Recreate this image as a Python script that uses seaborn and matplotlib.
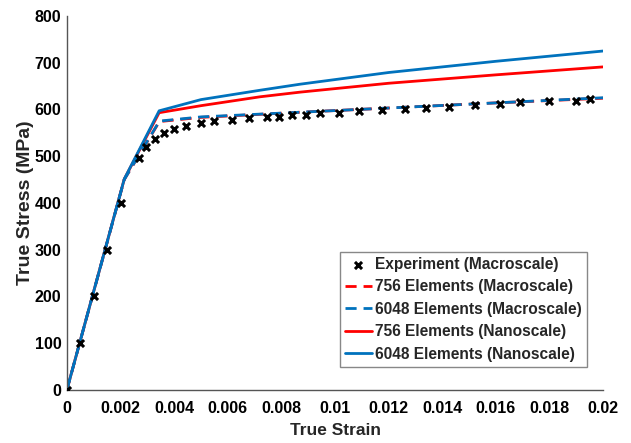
import numpy as np
import pandas as pd
import matplotlib
matplotlib.use("Agg")
import matplotlib.pyplot as plt
import seaborn as sns
from matplotlib.ticker import FuncFormatter

# ---- data ----
exp_strain = [0.0, 0.0005, 0.001, 0.0015, 0.002, 0.0027, 0.00295, 0.00328, 0.00363,
              0.0040, 0.00444, 0.0050, 0.0055, 0.00617, 0.0068, 0.00747, 0.0079,
              0.0084, 0.0089, 0.00944, 0.01015, 0.0109, 0.01176, 0.0126, 0.0134,
              0.01425, 0.0152, 0.01616, 0.0169, 0.01797, 0.01897, 0.0195]
exp_stress = [0, 100, 200, 300, 400, 497, 519, 537, 550,
              558, 565, 572, 575, 578, 581, 584, 584,
              587, 589, 592, 593, 597, 599, 600, 604,
              606, 610, 611, 615, 617, 619, 622]

macro_strain = [0.0, 0.00214, 0.00345, 0.0050, 0.0087, 0.0120, 0.0160, 0.0200]
macro756_stress = [0, 450, 574, 583, 594, 603, 614, 624]
macro6048_stress = [0, 450, 575, 584, 594, 603, 614, 625]

nano_strain = [0.0, 0.00214, 0.00344, 0.0050, 0.0072, 0.0087, 0.0120, 0.0160, 0.0200]
nano756_stress = [0, 451, 593, 608, 627, 637, 656, 674, 691]
nano6048_stress = [0, 451, 597, 621, 641, 654, 679, 703, 725]

labels = ["Experiment (Macroscale)", "756 Elements (Macroscale)",
          "6048 Elements (Macroscale)", "756 Elements (Nanoscale)",
          "6048 Elements (Nanoscale)"]
x_ticks = [0, 0.002, 0.004, 0.006, 0.008, 0.01, 0.012, 0.014, 0.016, 0.018, 0.02]
y_ticks = [0, 100, 200, 300, 400, 500, 600, 700, 800]

BLUE = "#0072BD"
RED = "#FF0000"

sns.set_theme(style="white")
plt.rcParams["font.family"] = ["Liberation Sans", "DejaVu Sans"]
plt.rcParams["font.weight"] = "bold"

fig = plt.figure(figsize=(6.31, 4.43), dpi=100)
ax = fig.add_axes([0.106, 0.120, 0.850, 0.844])

sns.lineplot(x=macro_strain, y=macro756_stress, ax=ax, color=RED, lw=2,
             linestyle=(0, (4, 2.5)), sort=False, label=labels[1])
sns.lineplot(x=nano_strain, y=nano756_stress, ax=ax, color=RED, lw=2,
             sort=False, label=labels[3])
sns.lineplot(x=macro_strain, y=macro6048_stress, ax=ax, color=BLUE, lw=2,
             linestyle=(0, (4, 2.5)), sort=False, label=labels[2])
sns.lineplot(x=nano_strain, y=nano6048_stress, ax=ax, color=BLUE, lw=2,
             sort=False, label=labels[4])
sns.scatterplot(x=exp_strain, y=exp_stress, ax=ax, marker="x", color="black",
                s=26, linewidth=2.2, zorder=5, label=labels[0])

ax.set_xlim(0, 0.02)
ax.set_ylim(0, 800)
ax.set_xticks(x_ticks)
ax.set_yticks(y_ticks)
ax.xaxis.set_major_formatter(FuncFormatter(lambda v, p: "%g" % round(v, 4)))
ax.yaxis.set_major_formatter(FuncFormatter(lambda v, p: "%d" % v))
ax.tick_params(direction="in", length=4, width=1, colors="#555555",
               labelcolor="black", labelsize=11.5)
ax.tick_params(axis="x", pad=8)
ax.tick_params(axis="y", pad=4)
for lab in ax.get_xticklabels() + ax.get_yticklabels():
    lab.set_fontweight("bold")
for side in ["top", "right"]:
    ax.spines[side].set_visible(False)
for side in ["left", "bottom"]:
    ax.spines[side].set_color("#555555")
    ax.spines[side].set_linewidth(1)

ax.set_xlabel("True Strain", fontsize=12.5, fontweight="bold", labelpad=5)
ax.set_ylabel("True Stress (MPa)", fontsize=14, fontweight="bold", labelpad=0.5)

handles, labs = ax.get_legend_handles_labels()
order = [labs.index(l) for l in labels]
leg = ax.legend([handles[i] for i in order], [labs[i] for i in order],
                loc="lower right", bbox_to_anchor=(0.970, 0.0615),
                borderaxespad=0, fontsize=11.2, frameon=True, fancybox=False,
                framealpha=1, edgecolor="#888888", handlelength=1.7,
                handletextpad=0.25, labelspacing=0.48, borderpad=0.32)
leg.get_frame().set_linewidth(1)
for t in leg.get_texts():
    t.set_fontweight("bold")

fig.savefig("out.png", dpi=100)
